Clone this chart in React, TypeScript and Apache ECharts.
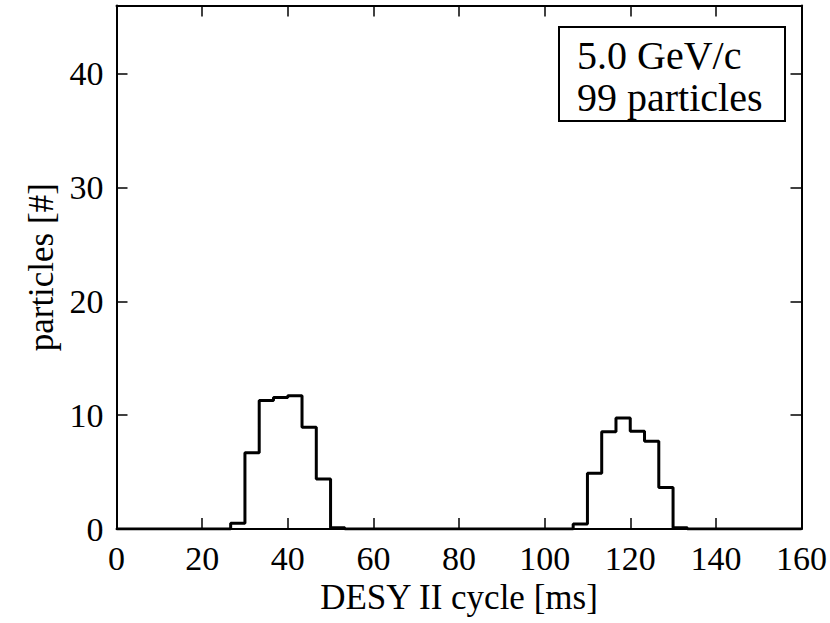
import React, { useEffect, useRef } from "react";
import * as echarts from "echarts";

// Histogram: 48 bins of equal width spanning 0–160 ms
const xMin = 0;
const xMax = 160;
const counts: number[] = [
  0, 0, 0, 0, 0, 0, 0, 0,
  0.5, 6.7, 11.3, 11.55, 11.7, 8.95, 4.4, 0.1,
  0, 0, 0, 0, 0, 0, 0, 0,
  0, 0, 0, 0, 0, 0, 0, 0,
  0.45, 4.9, 8.55, 9.75, 8.6, 7.7, 3.65, 0.1,
  0, 0, 0, 0, 0, 0, 0, 0,
];
const xTicks = [0, 20, 40, 60, 80, 100, 120, 140, 160];
const yTicks = [0, 10, 20, 30, 40];
const yMax = 46;
const xName = "DESY II cycle [ms]";
const yName = "particles [#]";
const legendLines = ["5.0 GeV/c", "99 particles"];

const FONT = "Liberation Serif, DejaVu Serif, serif";

export default function App() {
  const ref = useRef<HTMLDivElement>(null);
  useEffect(() => {
    if (!ref.current) return;
    const chart = echarts.init(ref.current, undefined, { renderer: "svg" });
    const w = (xMax - xMin) / counts.length;
    const stepData: number[][] = counts.map((c, i) => [xMin + i * w, c]);
    stepData.push([xMax, counts[counts.length - 1]]);

    const axisLine = { show: true, onZero: false, lineStyle: { color: "#000", width: 2 } };
    const tick = { show: true, inside: true, length: 11, lineStyle: { color: "#000", width: 1.5 } };

    chart.setOption({
      animation: false,
      backgroundColor: "#fff",
      grid: { left: 116.5, right: 25, top: 5.5, bottom: 94, containLabel: false },
      xAxis: [
        {
          type: "value",
          min: xMin,
          max: xMax,
          interval: xTicks[1] - xTicks[0],
          position: "bottom",
          name: xName,
          nameLocation: "middle",
          nameGap: 50,
          nameTextStyle: { fontFamily: FONT, fontSize: 35, color: "#000" },
          axisLine,
          axisTick: tick,
          splitLine: { show: false },
          axisLabel: {
            margin: 12,
            fontFamily: FONT,
            fontSize: 34,
            color: "#000",
            formatter: (v: number) => (xTicks.includes(v) ? String(v) : ""),
          },
        },
        {
          type: "value",
          min: xMin,
          max: xMax,
          interval: xTicks[1] - xTicks[0],
          position: "top",
          axisLine,
          axisTick: tick,
          splitLine: { show: false },
          axisLabel: { show: false },
        },
      ],
      yAxis: [
        {
          type: "value",
          min: 0,
          max: yMax,
          interval: yTicks[1] - yTicks[0],
          position: "left",
          name: yName,
          nameLocation: "middle",
          nameGap: 58,
          nameTextStyle: { fontFamily: FONT, fontSize: 35, color: "#000" },
          axisLine,
          axisTick: tick,
          splitLine: { show: false },
          axisLabel: {
            margin: 13,
            fontFamily: FONT,
            fontSize: 34,
            color: "#000",
            formatter: (v: number) => (yTicks.includes(v) ? String(v) : ""),
          },
        },
        {
          type: "value",
          min: 0,
          max: yMax,
          interval: yTicks[1] - yTicks[0],
          position: "right",
          axisLine,
          axisTick: tick,
          splitLine: { show: false },
          axisLabel: { show: false },
        },
      ],
      series: [
        {
          type: "line",
          xAxisIndex: 0,
          yAxisIndex: 0,
          step: "end",
          data: stepData,
          symbol: "none",
          lineStyle: { color: "#000", width: 3 },
          z: 3,
        },
      ],
      graphic: [
        {
          type: "rect",
          shape: { x: 559, y: 27, width: 226, height: 94 },
          style: { fill: "#fff", stroke: "#000", lineWidth: 2 },
          z: 10,
        },
        {
          type: "text",
          x: 577,
          y: 55.3,
          style: {
            text: legendLines[0],
            fontFamily: FONT,
            fontSize: 40,
            fill: "#000",
            verticalAlign: "middle",
            align: "left",
          },
          z: 11,
        },
        {
          type: "text",
          x: 577,
          y: 97,
          style: {
            text: legendLines[1],
            fontFamily: FONT,
            fontSize: 40,
            fill: "#000",
            verticalAlign: "middle",
            align: "left",
          },
          z: 11,
        },
      ],
    });
    return () => chart.dispose();
  }, []);
  return (
    <div
      ref={ref}
      style={{ position: "absolute", left: 0, top: 0, width: 830, height: 623 }}
    />
  );
}
